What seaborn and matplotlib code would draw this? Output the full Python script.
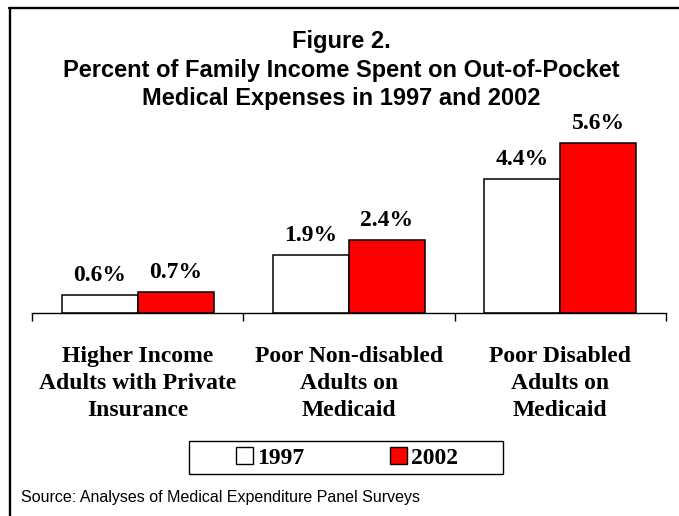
import pandas as pd
import matplotlib
matplotlib.use("Agg")
import matplotlib.pyplot as plt
from matplotlib.patches import Patch, Rectangle
from matplotlib.lines import Line2D
import seaborn as sns

# Dados
grupos = ["Higher Income\nAdults with Private\nInsurance",
          "Poor Non-disabled\nAdults on\nMedicaid",
          "Poor Disabled\nAdults on\nMedicaid"]
anos = ["1997", "2002"]
valores_1997 = [0.6, 1.9, 4.4]
valores_2002 = [0.7, 2.4, 5.6]

df = pd.DataFrame({
    "grupo": grupos * 2,
    "ano": [anos[0]] * 3 + [anos[1]] * 3,
    "valor": valores_1997 + valores_2002,
})

sns.set_style("white")
plt.rcParams.update({
    "font.family": ["Liberation Sans", "DejaVu Sans"],
    "text.color": "black",
    "axes.labelcolor": "black",
    "xtick.color": "black",
})

SERIF = ["Liberation Serif", "DejaVu Serif"]
cores = {"1997": "white", "2002": "#FF0000"}
W, H = 679, 516

fig = plt.figure(figsize=(6.79, 5.16), dpi=100)
ax = fig.add_axes([32 / W, (H - 313) / H, 634 / W, 182.4 / H])

sns.barplot(data=df, x="grupo", y="valor", hue="ano", palette=cores,
            hue_order=anos, order=grupos, width=0.72, saturation=1,
            edgecolor="black", linewidth=1.1, legend=False, ax=ax)

for cont in ax.containers:
    ax.bar_label(cont, labels=[f"{v:.1f}%" for v in cont.datavalues],
                 padding=6.5, fontsize=17, fontweight="bold", family=SERIF)

ax.set_xlim(-0.5, 2.5)
ax.set_ylim(0, 6)
ax.set_yticks([])
ax.set_xlabel("")
ax.set_ylabel("")
for s in ["top", "right", "left"]:
    ax.spines[s].set_visible(False)
ax.spines["bottom"].set_color("black")
ax.spines["bottom"].set_linewidth(1.0)

ax.set_xticks([-0.5, 0.5, 1.5, 2.5], minor=True)
ax.tick_params(axis="x", which="minor", length=6, width=1.0, color="black",
               direction="out", bottom=True)
ax.tick_params(axis="x", which="major", length=0, pad=23.5)
for lbl in ax.get_xticklabels():
    lbl.set_fontfamily(SERIF)
    lbl.set_fontsize(17)
    lbl.set_fontweight("bold")
    lbl.set_linespacing(1.38)
    lbl.set_verticalalignment("top")

# Título
fig.text(0.503, 1 - 70 / H, "Figure 2.\nPercent of Family Income Spent on Out-of-Pocket\n"
         "Medical Expenses in 1997 and 2002", ha="center", va="center",
         fontsize=17, fontweight="bold", linespacing=1.3)

# Legenda
handles = [Patch(facecolor=cores[a], edgecolor="black", linewidth=1) for a in anos]
fig.legend(handles, anos, loc="center", ncol=2,
           bbox_to_anchor=(347 / W, 1 - 458 / H),
           prop={"family": SERIF, "weight": "bold", "size": 17},
           frameon=False, handlelength=0.72, handleheight=0.72,
           handletextpad=0.2, columnspacing=3.6, borderpad=0, borderaxespad=0)
fig.add_artist(Rectangle((189 / W, 1 - 474 / H), 314 / W, 33 / H, fill=False,
                         edgecolor="black", linewidth=1.0, transform=fig.transFigure))

fig.text(21 / W, 1 - 502 / H, "Source: Analyses of Medical Expenditure Panel Surveys",
         fontsize=11.5, ha="left", va="baseline")

# Moldura
fig.add_artist(Line2D([10 / W, 10 / W], [0, 1 - 8 / H], color="black", linewidth=1.7,
                      transform=fig.transFigure))
fig.add_artist(Line2D([9.4 / W, 1], [1 - 8 / H, 1 - 8 / H], color="black", linewidth=1.7,
                      transform=fig.transFigure))

fig.savefig("out.png", dpi=100)
